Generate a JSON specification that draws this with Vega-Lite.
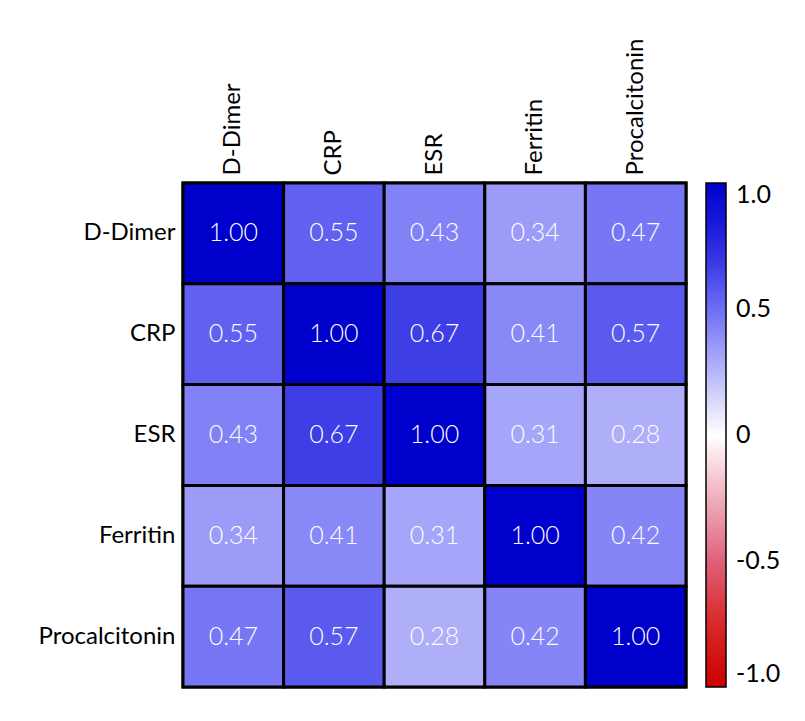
{
  "$schema": "https://vega.github.io/schema/vega-lite/v6.json",
  "width": 503,
  "height": 504,
  "autosize": {"type": "none"},
  "padding": {"left": 183, "top": 183, "right": 119, "bottom": 34},
  "background": "white",
  "data": {
    "values": [
      {"row": "D-Dimer", "col": "D-Dimer", "r": 1.00},
      {"row": "D-Dimer", "col": "CRP", "r": 0.55},
      {"row": "D-Dimer", "col": "ESR", "r": 0.43},
      {"row": "D-Dimer", "col": "Ferritin", "r": 0.34},
      {"row": "D-Dimer", "col": "Procalcitonin", "r": 0.47},
      {"row": "CRP", "col": "D-Dimer", "r": 0.55},
      {"row": "CRP", "col": "CRP", "r": 1.00},
      {"row": "CRP", "col": "ESR", "r": 0.67},
      {"row": "CRP", "col": "Ferritin", "r": 0.41},
      {"row": "CRP", "col": "Procalcitonin", "r": 0.57},
      {"row": "ESR", "col": "D-Dimer", "r": 0.43},
      {"row": "ESR", "col": "CRP", "r": 0.67},
      {"row": "ESR", "col": "ESR", "r": 1.00},
      {"row": "ESR", "col": "Ferritin", "r": 0.31},
      {"row": "ESR", "col": "Procalcitonin", "r": 0.28},
      {"row": "Ferritin", "col": "D-Dimer", "r": 0.34},
      {"row": "Ferritin", "col": "CRP", "r": 0.41},
      {"row": "Ferritin", "col": "ESR", "r": 0.31},
      {"row": "Ferritin", "col": "Ferritin", "r": 1.00},
      {"row": "Ferritin", "col": "Procalcitonin", "r": 0.42},
      {"row": "Procalcitonin", "col": "D-Dimer", "r": 0.47},
      {"row": "Procalcitonin", "col": "CRP", "r": 0.57},
      {"row": "Procalcitonin", "col": "ESR", "r": 0.28},
      {"row": "Procalcitonin", "col": "Ferritin", "r": 0.42},
      {"row": "Procalcitonin", "col": "Procalcitonin", "r": 1.00}
    ]
  },
  "encoding": {
    "x": {
      "field": "col", "type": "nominal",
      "sort": ["D-Dimer", "CRP", "ESR", "Ferritin", "Procalcitonin"],
      "scale": {"paddingInner": 0, "paddingOuter": 0},
      "axis": {"orient": "top", "title": null, "labelAngle": -90, "labelAlign": "left", "labelBaseline": "middle", "ticks": false, "domain": false, "labelPadding": 8, "labelFont": "Lato", "labelFontSize": 24, "labelColor": "black"}
    },
    "y": {
      "field": "row", "type": "nominal",
      "sort": ["D-Dimer", "CRP", "ESR", "Ferritin", "Procalcitonin"],
      "scale": {"paddingInner": 0, "paddingOuter": 0},
      "axis": {"title": null, "ticks": false, "domain": false, "labelPadding": 8, "labelFont": "Lato", "labelFontSize": 24, "labelColor": "black"}
    }
  },
  "layer": [
    {
      "mark": {"type": "rect", "stroke": "black", "strokeWidth": 3},
      "encoding": {
        "color": {
          "field": "r", "type": "quantitative",
          "scale": {
            "domain": [-1, -0.75, -0.5, 0, 0.5, 0.75, 1],
            "range": ["#CC0000", "#D82828", "#E0607A", "#FFFFFF", "#6E6EF5", "#2828E1", "#0000CC"],
            "interpolate": "rgb"
          },
          "legend": {
            "title": null, "type": "gradient", "direction": "vertical",
            "gradientLength": 504, "gradientThickness": 20,
            "gradientStrokeColor": "black", "gradientStrokeWidth": 1.5,
            "offset": 20, "padding": 0,
            "values": [-1, -0.5, 0, 0.5, 1],
            "labelExpr": "datum.value == 0 ? '0' : (datum.value < 0 ? '-' + format(-datum.value, '.1f') : format(datum.value, '.1f'))",
            "labelFont": "Lato", "labelFontSize": 25, "labelColor": "black", "labelOffset": 10
          }
        }
      }
    },
    {
      "mark": {"type": "text", "color": "white", "font": "Lato", "fontSize": 25, "fontWeight": 300},
      "encoding": {
        "text": {"field": "r", "type": "quantitative", "format": ".2f"}
      }
    }
  ],
  "config": {"view": {"stroke": "black", "strokeWidth": 3}}
}
